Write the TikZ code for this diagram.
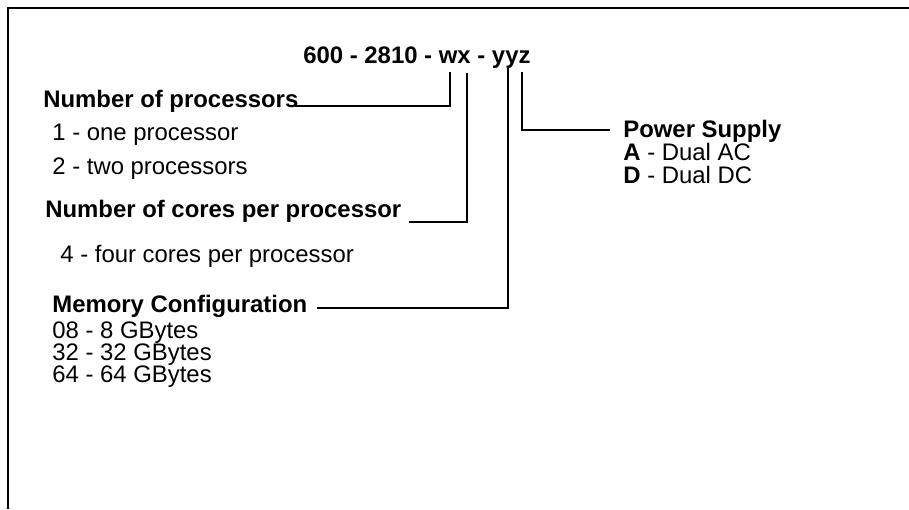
\documentclass[tikz,border=0pt]{standalone}
\usepackage{fontspec}
\setmainfont{Liberation Sans}
\usetikzlibrary{positioning}

\begin{document}
\begin{tikzpicture}[
    font=\fontsize{13.6}{16}\selectfont,
    head/.style={inner sep=0pt, anchor=base west, font=\fontsize{13.6}{16}\selectfont\bfseries},
    item/.style={inner sep=0pt, anchor=base west},
    link/.style={draw=black, line width=0.9pt},
    frame/.style={draw=black, line width=0.75pt},
]
    \useasboundingbox (0,0) rectangle (18.18,-10.18);
    \draw[frame] (18.18,-0.16) -| (0.16,-10.18);

    % part number
    \node[head] (code) at (6.06,-1.26) {600 - 2810 - wx - yyz};

    % left column
    \node[head] (procs) at (0.86,-2.14) {Number of processors};
    \node[below=0.66cm of procs.base west, xshift=0.18cm, item] (one) {1 - one processor};
    \node[below=0.68cm of one.base west, item] (two) {2 - two processors};

    \node[head] (cores) at (0.90,-4.34) {Number of cores per processor};
    \node[below=0.90cm of cores.base west, xshift=0.30cm, item] (four) {4 - four cores per processor};

    \node[head] (memory) at (1.04,-6.24) {Memory Configuration};
    \node[below=0.52cm of memory.base west, item] (m08) {08 - 8 GBytes};
    \node[below=0.44cm of m08.base west, item] (m32) {32 - 32 GBytes};
    \node[below=0.44cm of m32.base west, item] (m64) {64 - 64 GBytes};

    % right column
    \node[head] (power) at (12.46,-2.74) {Power Supply};
    \node[below=0.46cm of power.base west, item] (ac) {\textbf{A} - Dual AC};
    \node[below=0.46cm of ac.base west, item] (dc) {\textbf{D} - Dual DC};

    % leader lines under the code letters
    \coordinate (wpin) at (9.00,-1.44);
    \coordinate (xpin) at (9.34,-1.46);
    \coordinate (ypin) at (10.16,-1.36);
    \coordinate (zpin) at (10.44,-1.44);

    \draw[link] (wpin) |- ([xshift=-0.08cm, yshift=0.02cm]procs.base east);
    \draw[link] (xpin) |- ([xshift=0.14cm, yshift=-0.10cm]cores.base east);
    \draw[link] (ypin) |- ([xshift=0.18cm, yshift=0.08cm]memory.base east);
    \draw[link] (zpin) |- ([xshift=-0.26cm, yshift=0.14cm]power.base west);
\end{tikzpicture}
\end{document}
